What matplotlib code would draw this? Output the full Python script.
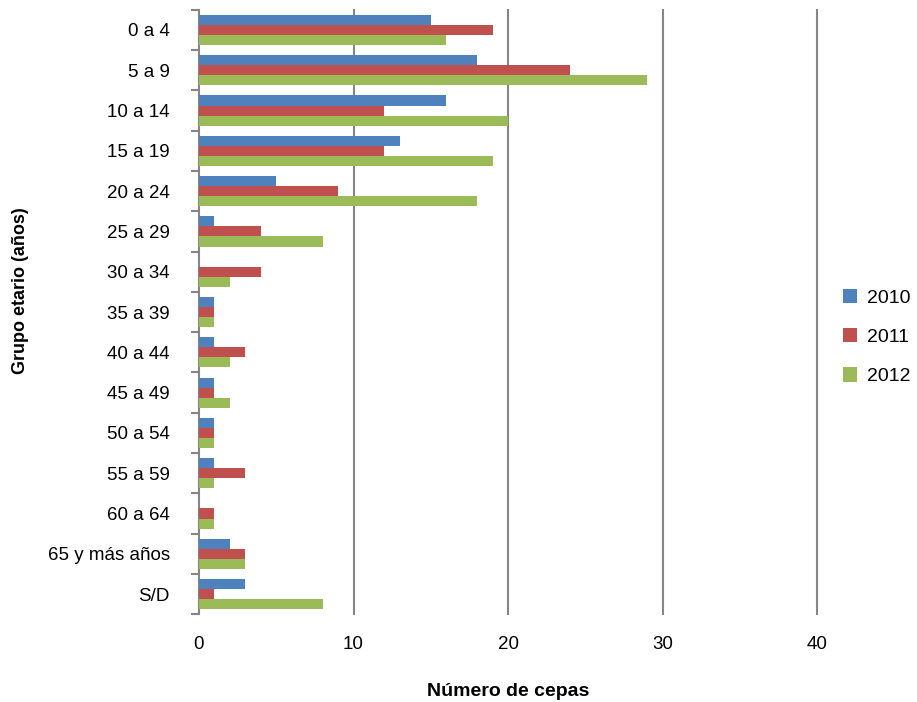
import numpy as np
import matplotlib.pyplot as plt
from matplotlib.ticker import FixedLocator

plt.rcParams['font.family'] = ['Liberation Sans', 'DejaVu Sans']

grupos = ["0 a 4", "5 a 9", "10 a 14", "15 a 19", "20 a 24", "25 a 29",
          "30 a 34", "35 a 39", "40 a 44", "45 a 49", "50 a 54", "55 a 59",
          "60 a 64", "65 y más años", "S/D"]
anios = ["2010", "2011", "2012"]
cepas_2010 = [15, 18, 16, 13, 5, 1, 0, 1, 1, 1, 1, 1, 0, 2, 3]
cepas_2011 = [19, 24, 12, 12, 9, 4, 4, 1, 3, 1, 1, 3, 1, 3, 1]
cepas_2012 = [16, 29, 20, 19, 18, 8, 2, 1, 2, 2, 1, 1, 1, 3, 8]
colores = ["#4F81BD", "#C0504D", "#9BBB59"]
marcas_x = [0, 10, 20, 30, 40]

fig = plt.figure(figsize=(9.17, 7.02), dpi=100)
ax = fig.add_axes([0.217, 0.125, 0.674, 0.861])

pos = np.arange(len(grupos))
alto = 0.25
for k, (serie, nombre) in enumerate(zip([cepas_2010, cepas_2011, cepas_2012], anios)):
    ax.barh(pos + (k - 1) * alto, serie, height=alto, color=colores[k],
            label=nombre, zorder=3)

ax.set_xlim(0, 40)
ax.set_ylim(len(grupos) - 0.5, -0.5)
ax.set_xticks(marcas_x)
# lineas de cuadricula sin recortar en el borde derecho
for v in marcas_x[1:]:
    ax.axvline(v, color="#868686", linewidth=1.5, zorder=0, clip_on=False)
ax.tick_params(axis="x", length=0, pad=16, labelsize=13.5)

ax.set_yticks(pos)
ax.set_yticklabels(grupos, fontsize=13.5)
ax.tick_params(axis="y", which="major", length=0, pad=21)
ax.yaxis.set_minor_locator(FixedLocator(np.arange(-0.5, len(grupos), 1)))
ax.tick_params(axis="y", which="minor", length=6, width=1.5, color="#868686")

for lado in ["top", "right", "bottom"]:
    ax.spines[lado].set_visible(False)
ax.spines["left"].set_color("#868686")
ax.spines["left"].set_linewidth(1.5)

ax.set_xlabel("Número de cepas", fontsize=14, fontweight="bold", labelpad=21)
ax.set_ylabel("Grupo etario (años)", fontsize=13, fontweight="bold")
ax.yaxis.set_label_coords(-0.275, 0.535)

fig.legend(loc="center left", bbox_to_anchor=(0.9, 0.52), frameon=False,
           fontsize=14, handlelength=0.75, handleheight=0.75,
           labelspacing=1.1, handletextpad=0.5)

fig.savefig("out.png", dpi=100)
